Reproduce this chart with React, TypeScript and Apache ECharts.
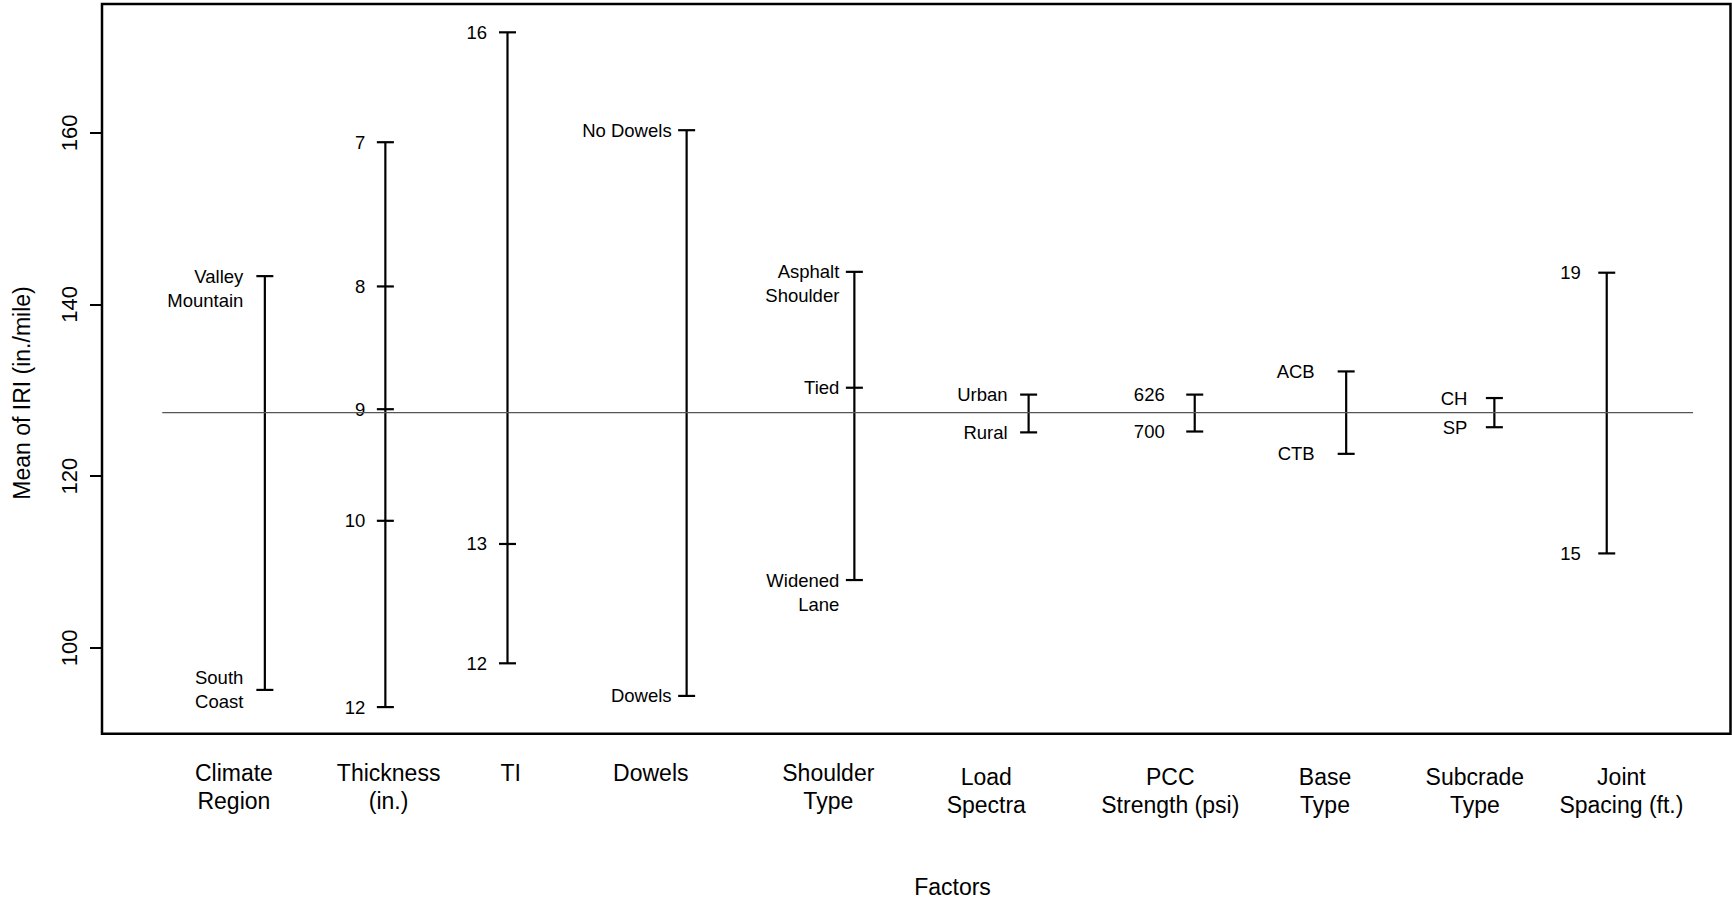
import React, { useEffect, useRef } from "react";
import * as echarts from "echarts";

// ---------------- data ----------------
const factorNames = [
  "Climate\nRegion",
  "Thickness\n(in.)",
  "TI",
  "Dowels",
  "Shoulder\nType",
  "Load\nSpectra",
  "PCC\nStrength (psi)",
  "Base\nType",
  "Subcrade\nType",
  "Joint\nSpacing (ft.)",
];
// x coordinates (axis units 0..100) of each factor's bar and of its name
const factorPos = [10, 17.4, 24.9, 35.9, 46.2, 56.9, 67.1, 76.4, 85.5, 92.4];
const factorNamePos = [8.1, 17.6, 25.1, 33.7, 44.6, 54.3, 65.6, 75.1, 84.3, 93.3];

const climateLevels = ["Valley\nMountain", "South\nCoast"];
const climateMeans = [143.3, 95.1];
const thicknessLevels = ["7", "8", "9", "10", "12"];
const thicknessMeans = [158.9, 142.1, 127.8, 114.8, 93.1];
const tiLevels = ["16", "13", "12"];
const tiMeans = [171.7, 112.1, 98.2];
const dowelLevels = ["No Dowels", "Dowels"];
const dowelMeans = [160.3, 94.4];
const shoulderLevels = ["Asphalt\nShoulder", "Tied", "Widened\nLane"];
const shoulderMeans = [143.8, 130.3, 107.9];
const loadLevels = ["Urban", "Rural"];
const loadMeans = [129.5, 125.1];
const pccLevels = ["626", "700"];
const pccMeans = [129.5, 125.2];
const baseLevels = ["ACB", "CTB"];
const baseMeans = [132.2, 122.6];
const subgradeLevels = ["CH", "SP"];
const subgradeMeans = [129.1, 125.7];
const jointLevels = ["19", "15"];
const jointMeans = [143.7, 111.0];

const grandMean = 127.4;
const meanLineFrom = 3.7;
const meanLineTo = 97.7;

const yTicks = [100, 120, 140, 160];
const yMin = 90;
const yMax = 175;
const yAxisTitle = "Mean of IRI (in./mile)";
const xAxisTitle = "Factors";

// level labels whose two lines are centred on the cap
const centeredLevelLabels = ["South\nCoast"];

const levelNames = [
  climateLevels, thicknessLevels, tiLevels, dowelLevels, shoulderLevels,
  loadLevels, pccLevels, baseLevels, subgradeLevels, jointLevels,
];
const levelMeans = [
  climateMeans, thicknessMeans, tiMeans, dowelMeans, shoulderMeans,
  loadMeans, pccMeans, baseMeans, subgradeMeans, jointMeans,
];

// ---------------- layout ----------------
const FONT = "'Liberation Sans', Arial, Helvetica, sans-serif";
const LABEL_GAP = [21.5, 20, 20.5, 15, 15, 21, 30, 31.5, 27, 26];
const NAME_DY = [25, 25, 25, 25, 25, 29, 29, 29, 29, 29];
const CAP = 8.5;
const BAR_W = 2.2;
const LEVEL_LH = 24;

export default function App() {
  const ref = useRef<HTMLDivElement>(null);

  useEffect(() => {
    if (!ref.current) return;
    const chart = echarts.init(ref.current, undefined, { renderer: "svg" });

    const option: any = {
      animation: false,
      backgroundColor: "#fff",
      grid: {
        left: 102,
        top: 4,
        right: 1.5,
        bottom: 169.3,
        show: true,
        borderColor: "#000",
        borderWidth: 2.5,
        backgroundColor: "transparent",
      },
      xAxis: { type: "value", min: 0, max: 100, show: false },
      yAxis: {
        type: "value",
        min: yMin,
        max: yMax,
        axisLine: { show: false },
        splitLine: { show: false },
        axisTick: {
          show: true,
          length: 12,
          customValues: yTicks,
          lineStyle: { color: "#000", width: 2 },
        },
        axisLabel: {
          customValues: yTicks,
          rotate: 90,
          margin: 22,
          fontSize: 22,
          lineHeight: 22,
          fontFamily: FONT,
          color: "#000",
        },
      },
      graphic: [
        {
          type: "text",
          x: 22,
          y: 393,
          rotation: Math.PI / 2,
          style: {
            text: yAxisTitle,
            align: "center",
            verticalAlign: "middle",
            fontSize: 23,
            fontFamily: FONT,
            fill: "#000",
          },
        },
        {
          type: "text",
          x: 952.5,
          y: 886.7,
          style: {
            text: xAxisTitle,
            align: "center",
            verticalAlign: "middle",
            fontSize: 23,
            fontFamily: FONT,
            fill: "#000",
          },
        },
      ],
      series: [
        {
          type: "line",
          data: [
            [meanLineFrom, grandMean],
            [meanLineTo, grandMean],
          ],
          symbol: "none",
          silent: true,
          lineStyle: { color: "#555", width: 1.3 },
        },
        {
          type: "custom",
          silent: true,
          data: factorPos.map((p, i) => [p, i]),
          renderItem: (params: any, api: any) => {
            const i = api.value(1);
            const means: number[] = levelMeans[i];
            const names: string[] = levelNames[i];
            const x = api.coord([factorPos[i], grandMean])[0];
            const ys = means.map((m) => api.coord([factorPos[i], m])[1]);
            const children: any[] = [];
            children.push({
              type: "line",
              shape: { x1: x, y1: Math.min(...ys), x2: x, y2: Math.max(...ys) },
              style: { stroke: "#000", lineWidth: BAR_W },
            });
            ys.forEach((y, k) => {
              children.push({
                type: "line",
                shape: { x1: x - CAP, y1: y, x2: x + CAP, y2: y },
                style: { stroke: "#000", lineWidth: BAR_W },
              });
              const multi = names[k].split("\n").length > 1;
              const centered = centeredLevelLabels.indexOf(names[k]) >= 0;
              const topAnchor = multi && !centered;
              children.push({
                type: "text",
                x: x - LABEL_GAP[i],
                y: topAnchor ? y - LEVEL_LH / 2 : y,
                style: {
                  text: names[k],
                  align: "right",
                  verticalAlign: topAnchor ? "top" : "middle",
                  fontSize: 18.5,
                  lineHeight: LEVEL_LH,
                  fontFamily: FONT,
                  fill: "#000",
                },
              });
            });
            return { type: "group", children };
          },
        },
        {
          type: "custom",
          silent: true,
          data: factorNamePos.map((p, i) => [p, i]),
          renderItem: (params: any, api: any) => {
            const i = api.value(1);
            const pt = api.coord([factorNamePos[i], yMin]);
            return {
              type: "text",
              x: pt[0],
              y: pt[1] + NAME_DY[i],
              style: {
                text: factorNames[i],
                align: "center",
                verticalAlign: "top",
                fontSize: 23,
                lineHeight: 28.5,
                fontFamily: FONT,
                fill: "#000",
              },
            };
          },
        },
      ],
    };

    chart.setOption(option);
    return () => chart.dispose();
  }, []);

  return (
    <div
      ref={ref}
      style={{ position: "fixed", left: 0, top: 0, width: 1732, height: 903, background: "#fff" }}
    />
  );
}
